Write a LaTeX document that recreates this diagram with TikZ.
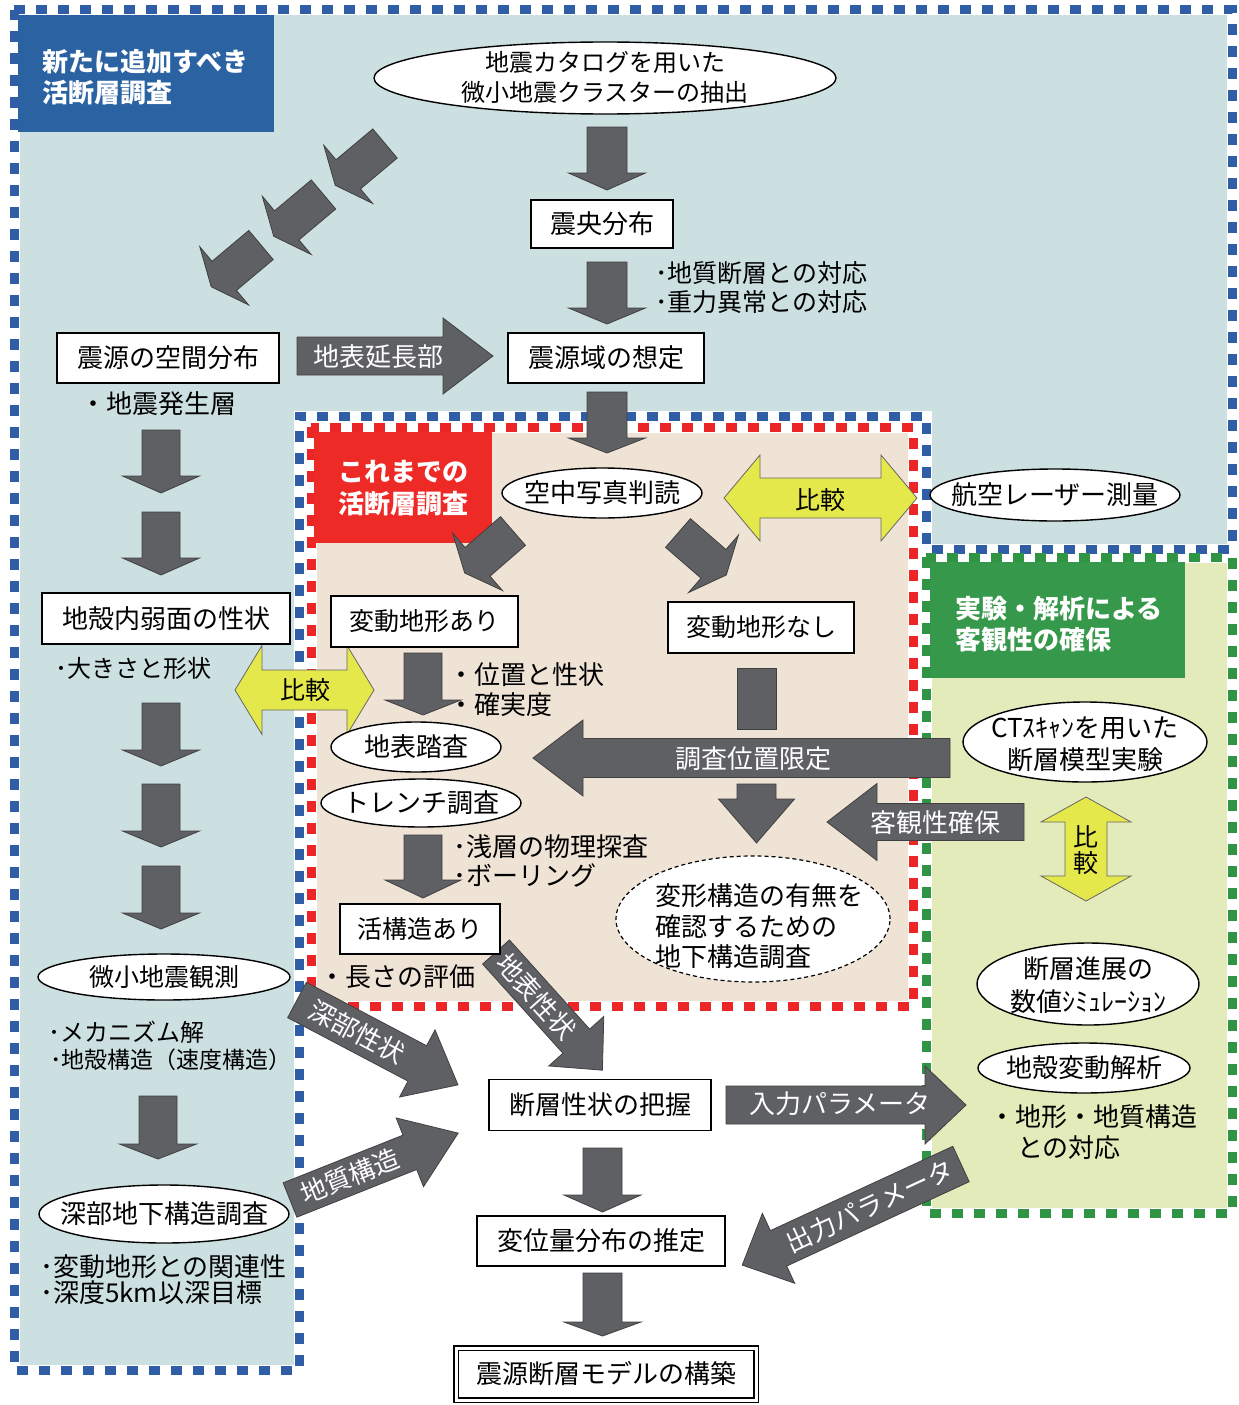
\documentclass[tikz,border=0pt]{standalone}
\usepackage{fontspec}
\setmainfont{Noto Sans CJK JP}
\usetikzlibrary{shapes.geometric}
\definecolor{bgblue}{HTML}{CDE0E1}
\definecolor{bgbeige}{HTML}{EFE3D6}
\definecolor{bggreen}{HTML}{E3EBBA}
\definecolor{dblue}{HTML}{2F5EA6}
\definecolor{dred}{HTML}{EC2526}
\definecolor{dgreen}{HTML}{2F9545}
\definecolor{ttlblue}{HTML}{2B62A2}
\definecolor{ttlred}{HTML}{EE2A27}
\definecolor{ttlgreen}{HTML}{36984A}
\definecolor{arrgray}{HTML}{5F6064}
\definecolor{arrylw}{HTML}{E5E84B}
\newcommand\fsz[2]{\fontsize{#1}{#2}\selectfont}
\newcommand\barrow[8]{%
  \begin{scope}[shift={#2},rotate=#3]
    \path[#8] (0,-#6) -- (#4,-#6) -- (#4,-#7) -- ({#4+#5},0) -- (#4,#7) -- (#4,#6) -- (0,#6) -- cycle;
    \coordinate (#1) at ({#4/2},0);
  \end{scope}}
\newcommand\darrow[7]{%
  \begin{scope}[shift={#2},rotate=#3]
    \path[yarrow] (-#4,0) -- ({-#4+#5},#7) -- ({-#4+#5},#6) -- ({#4-#5},#6) -- ({#4-#5},#7) -- (#4,0) -- ({#4-#5},-#7) -- ({#4-#5},-#6) -- ({-#4+#5},-#6) -- ({-#4+#5},-#7) -- cycle;
    \coordinate (#1) at (0,0);
  \end{scope}}
\tikzset{
  box/.style={draw=black, line width=1.4pt, fill=white, inner sep=0pt, font=\fsz{26}{31}},
  ell/.style={ellipse, draw=black, line width=1.4pt, fill=white, inner sep=0pt},
  lbl/.style={font=\fsz{26}{31}, align=center, inner sep=0pt},
  note/.style={anchor=west, inner sep=0pt, font=\fsz{26}{31}},
  garrow/.style={fill=arrgray, draw=black!75, line width=0.8pt, line join=miter},
  yarrow/.style={fill=arrylw, draw=black!60, line width=0.8pt},
  atext/.style={text=white, inner sep=0pt, font=\fsz{26}{31}},
  ttl/.style={text=white, inner sep=0pt, anchor=west, font=\fsz{26}{31}\bfseries},
  bordw/.style={draw=white, line width=11pt},
  bordd/.style={line width=9pt, dash pattern=on 11pt off 11pt},
}
\begin{document}
\begin{tikzpicture}[x=1pt,y=-1pt]
\useasboundingbox (0,0) rectangle (1239,1405);
\fill[white] (0,0) rectangle (1239,1405);
% ---------- regions ----------
\fill[bgblue] (14,10) -- (1232,10) -- (1232,549) -- (926,549) -- (926,416) -- (299,416) -- (299,1370) -- (14,1370) -- cycle;
\fill[bgbeige] (311,427) rectangle (913,1006);
\fill[bggreen] (926,557) rectangle (1232,1213);
\draw[bordw] (14,10) -- (1232,10) -- (1232,549) -- (926,549) -- (926,416) -- (299,416) -- (299,1370) -- (14,1370) -- cycle;
\draw[bordw] (311,427) rectangle (913,1006);
\draw[bordw] (926,557) rectangle (1232,1213);
\draw[bordd, dblue] (14,10) -- (1232,10) -- (1232,549) -- (926,549) -- (926,416) -- (299,416) -- (299,1370) -- (14,1370) -- cycle;
\draw[bordd, dred] (311,427) rectangle (913,1006);
\draw[bordd, dgreen] (926,557) rectangle (1232,1213);
% ---------- titles ----------
\node[fill=ttlblue, inner sep=0pt, minimum width=256pt, minimum height=117pt, anchor=north west] (tblue) at (18,15) {};
\node[ttl] (tblue1) at (42,62) {新たに追加すべき};
\node[ttl] (tblue2) at (42,93) {活断層調査};
\node[fill=ttlred, inner sep=0pt, minimum width=178pt, minimum height=111pt, anchor=north west] (tred) at (314,432) {};
\node[ttl] (tred1) at (338,472) {これまでの};
\node[ttl] (tred2) at (338,504) {活断層調査};
\node[fill=ttlgreen, inner sep=0pt, minimum width=255pt, minimum height=116pt, anchor=north west] (tgreen) at (930,562) {};
\node[ttl] (tgreen1) at (955,609) {実験・解析による};
\node[ttl] (tgreen2) at (955,640) {客観性の確保};
% ---------- gray arrows ----------
\barrow{d1}{(607,127)}{-90}{46}{17}{20}{38.5}{garrow}
\barrow{d2}{(607,262)}{-90}{46}{16}{20}{38.5}{garrow}
\barrow{d3}{(607,392)}{-90}{46}{15}{20}{38.5}{garrow}
\barrow{t1}{(385,143.5)}{220}{48}{17}{19}{38}{garrow}
\barrow{t2}{(323.5,194.5)}{220}{48}{17}{19}{38}{garrow}
\barrow{t3}{(261,245)}{220}{48}{17}{19}{38}{garrow}
\barrow{aext}{(297,356)}{0}{146}{50}{19}{38}{garrow}
\node[atext] (aextl) at (378,357) {地表延長部};
\barrow{l1}{(161,430)}{-90}{46}{17}{19}{38.5}{garrow}
\barrow{l2}{(161,512)}{-90}{46}{17}{19}{38.5}{garrow}
\barrow{l3}{(161,703)}{-90}{47}{16}{19}{38.5}{garrow}
\barrow{l4}{(161,784)}{-90}{47}{16}{19}{38.5}{garrow}
\barrow{l5}{(161,866)}{-90}{47}{16}{19}{38.5}{garrow}
\barrow{l6}{(158,1096)}{-90}{48}{15}{19}{38.5}{garrow}
\barrow{dl}{(513,531)}{221}{47}{17}{19}{38}{garrow}
\barrow{dr}{(678,533)}{-41}{47}{17}{19}{38}{garrow}
\barrow{r1}{(423,653)}{-90}{47}{15}{19}{38}{garrow}
\barrow{r2}{(423,835)}{-90}{45}{18}{19}{38}{garrow}
\node[fill=arrgray, draw=black!75, line width=0.8pt, inner sep=0pt, minimum width=39pt, minimum height=61pt] (stem) at (756.5,698.5) {};
\barrow{alim}{(950,758)}{180}{367}{50}{19.5}{38}{garrow}
\node[atext] (aliml) at (753,759) {調査位置限定};
\barrow{r3}{(756.5,784)}{-90}{15}{44}{19.5}{38}{garrow}
\barrow{aobj}{(1024,822)}{180}{147}{50}{18.5}{38.5}{garrow}
\node[atext] (aobjl) at (935,823) {客観性確保};
\barrow{adeep}{(297,1000)}{-27.8}{136}{46}{20}{38}{garrow}
\node[atext, rotate=-27.8] (adeepl) at (adeep) {深部性状};
\barrow{ageo}{(290,1200)}{21.7}{129}{52}{18.5}{37}{garrow}
\node[atext, rotate=21.7] (ageol) at (ageo) {地質構造};
\barrow{asurf}{(496,952)}{-48}{120}{39}{18}{37}{garrow}
\node[atext, rotate=-48] (asurfl) at (asurf) {地表性状};
\barrow{ain}{(726,1105)}{0}{199}{41}{19}{39}{garrow}
\node[atext] (ainl) at (840,1104) {入力パラメータ};
\barrow{aout}{(961,1164)}{204.8}{201}{40}{19.5}{38.5}{garrow}
\node[atext, rotate=24.8] (aoutl) at (aout) {出力パラメータ};
\barrow{b1}{(602.5,1148)}{-90}{47}{17}{19.5}{38.5}{garrow}
\barrow{b2}{(602.5,1273)}{-90}{49}{14}{19.5}{38.5}{garrow}
% ---------- yellow arrows ----------
\darrow{y1}{(820.5,498)}{0}{96.5}{36}{20}{43}
\node[lbl, font=\fsz{25}{30}] (y1l) at (820,500) {比較};
\darrow{y2}{(304.5,690)}{0}{69.5}{27}{20}{44.5}
\node[lbl, font=\fsz{25}{30}] (y2l) at (305,690) {比較};
\darrow{y3}{(1086,849)}{90}{52}{25}{21}{45}
\node[lbl, font=\fsz{25}{26}] (y3l) at (1086,850) {比\\較};
% ---------- nodes: top ----------
\node[ell, minimum width=462pt, minimum height=72pt] (ecat) at (605,78) {};
\node[lbl, font=\fsz{24}{30}] (ecatl) at (605,77) {地震カタログを用いた\\微小地震クラスターの抽出};
\node[box, minimum width=142pt, minimum height=48pt] (nepi) at (602,224) {震央分布};
\node[note, font=\fsz{25}{30}] (nepi1) at (655,273) {･地質断層との対応};
\node[note, font=\fsz{25}{30}] (nepi2) at (655,302) {･重力異常との対応};
\node[box, minimum width=196pt, minimum height=50pt] (nsrc) at (606,358) {震源域の想定};
\node[box, minimum width=222pt, minimum height=50pt] (nspat) at (168,358) {震源の空間分布};
\node[note] (nspat1) at (80,404) {・地震発生層};
% ---------- left column ----------
\node[box, minimum width=248pt, minimum height=51pt] (nweak) at (166,618.5) {地殻内弱面の性状};
\node[note, font=\fsz{24}{30}] (nweak1) at (55,668) {･大きさと形状};
\node[ell, minimum width=252pt, minimum height=46pt] (emicro) at (164,977) {};
\node[lbl, font=\fsz{25}{30}] (emicrol) at (emicro) {微小地震観測};
\node[note, font=\fsz{24}{30}] (emicro1) at (48,1032) {･メカニズム解};
\node[note, font=\fsz{23}{30}] (emicro2) at (50,1060) {･地殻構造（速度構造）};
\node[ell, minimum width=250pt, minimum height=58pt] (edeep) at (164,1214) {};
\node[lbl] (edeepl) at (edeep) {深部地下構造調査};
\node[note] (edeep1) at (40,1267) {･変動地形との関連性};
\node[note] (edeep2) at (40,1293) {･深度5km以深目標};
% ---------- red box ----------
\node[ell, minimum width=200pt, minimum height=50pt] (eair) at (602,493) {};
\node[lbl] (eairl) at (eair) {空中写真判読};
\node[ell, minimum width=250pt, minimum height=52pt] (elaser) at (1055,495) {};
\node[lbl] (elaserl) at (elaser) {航空レーザー測量};
\node[box, minimum width=187pt, minimum height=51pt, font=\fsz{25}{30}] (nari) at (424.5,621.5) {変動地形あり};
\node[box, minimum width=186pt, minimum height=51pt, font=\fsz{25}{30}] (nnashi) at (761,627.5) {変動地形なし};
\node[note] (nari1) at (448,675) {・位置と性状};
\node[note] (nari2) at (448,705) {・確実度};
\node[ell, minimum width=170pt, minimum height=50pt] (efield) at (416,747) {};
\node[lbl] (efieldl) at (efield) {地表踏査};
\node[ell, minimum width=200pt, minimum height=48pt] (etrench) at (421,803) {};
\node[lbl] (etrenchl) at (etrench) {トレンチ調査};
\node[note] (etrench1) at (453,847) {･浅層の物理探査};
\node[note] (etrench2) at (453,875) {･ボーリング};
\node[box, minimum width=160pt, minimum height=50pt, font=\fsz{25}{30}] (nkat) at (420,929) {活構造あり};
\node[note] (nkat1) at (319,977) {・長さの評価};
\node[ell, dashed, line width=1.2pt, dash pattern=on 4pt off 3pt, minimum width=274pt, minimum height=126pt] (esub) at (753,919) {};
\node[note] (esub1) at (655,896) {変形構造の有無を};
\node[note] (esub2) at (655,927) {確認するための};
\node[note] (esub3) at (655,957) {地下構造調査};
% ---------- green box ----------
\node[ell, minimum width=244pt, minimum height=80pt] (ect) at (1085,742) {};
\node[lbl, font=\fsz{26}{32}] (ectl) at (1085,744) {CTｽｷｬﾝを用いた\\断層模型実験};
\node[ell, minimum width=222pt, minimum height=82pt] (esim) at (1088,984) {};
\node[lbl, font=\fsz{26}{33}] (esiml) at (1088,985) {断層進展の\\数値ｼﾐｭﾚｰｼｮﾝ};
\node[ell, minimum width=212pt, minimum height=50pt] (ecrust) at (1084,1068) {};
\node[lbl] (ecrustl) at (ecrust) {地殻変動解析};
\node[note] (ecrust1) at (989,1117) {・地形・地質構造};
\node[note] (ecrust2) at (1017,1148) {との対応};
% ---------- bottom ----------
\node[box, minimum width=222pt, minimum height=51pt] (nfault) at (600,1105) {断層性状の把握};
\node[box, minimum width=248pt, minimum height=50pt] (ndisp) at (601,1241) {変位量分布の推定};
\node[draw=black, line width=1.6pt, double=white, double distance=3pt, fill=white, minimum width=300pt, minimum height=52pt, inner sep=0pt, font=\fsz{26}{31}] (nmodel) at (606,1374) {震源断層モデルの構築};
\end{tikzpicture}
\end{document}
